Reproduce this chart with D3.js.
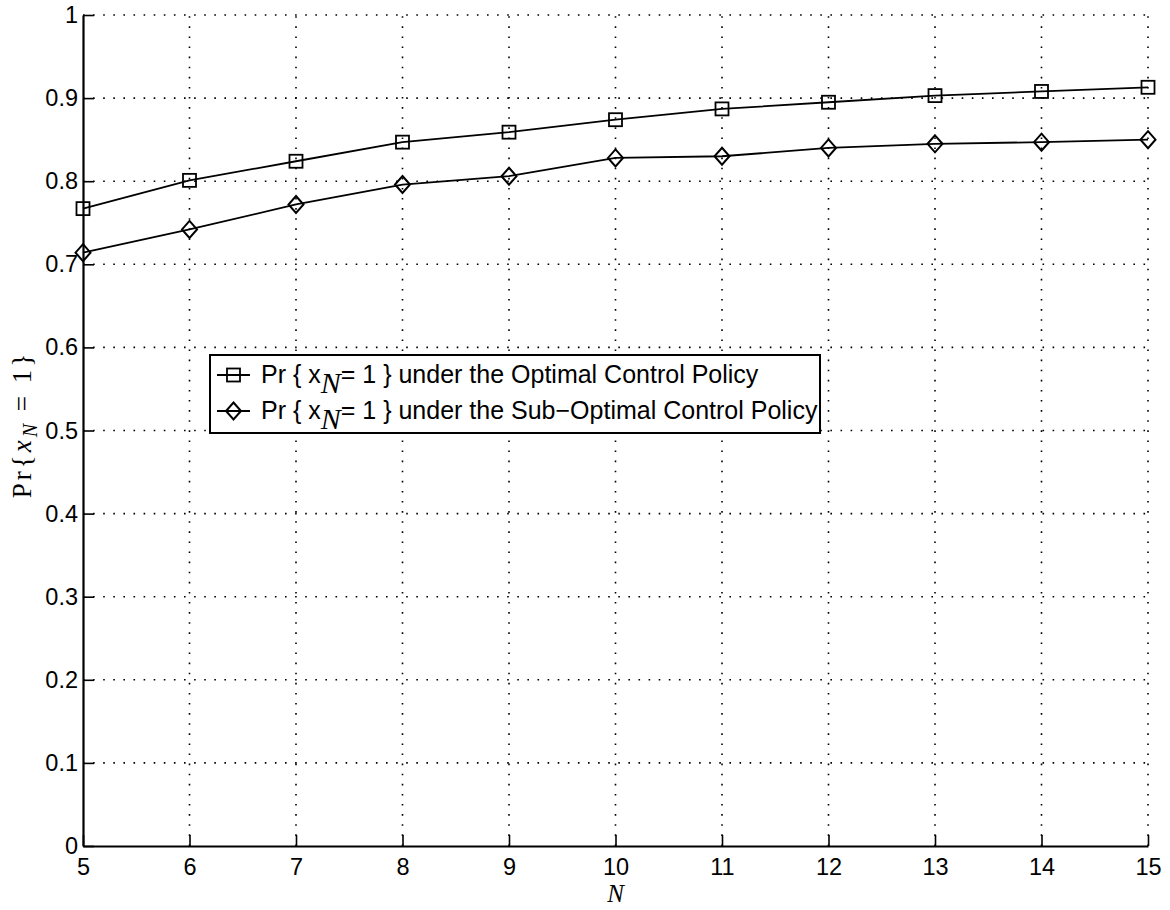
<!DOCTYPE html>
<html>
<head>
<meta charset="utf-8">
<script src="https://cdn.jsdelivr.net/npm/d3@7"></script>
<style>
  body { margin: 0; background: #fff; }
  .tick text { font-family: "Liberation Sans", Arial, sans-serif; font-size: 23.5px; fill: #000; }
  .legend-text { font-family: "Liberation Sans", Arial, sans-serif; font-size: 25px; }
  .math { font-family: "Liberation Serif", "DejaVu Serif", serif; }
</style>
</head>
<body>
<div id="chart"></div>
<script>
// ========== Data ==========
const stages = [5, 6, 7, 8, 9, 10, 11, 12, 13, 14, 15];
const optimalPr = [0.767, 0.801, 0.824, 0.847, 0.859, 0.874, 0.887, 0.895, 0.903, 0.908, 0.913];
const subOptimalPr = [0.714, 0.742, 0.772, 0.796, 0.806, 0.828, 0.830, 0.840, 0.845, 0.847, 0.850];
const yTicks = [0, 0.1, 0.2, 0.3, 0.4, 0.5, 0.6, 0.7, 0.8, 0.9, 1];
const legendLabels = [
  " under the Optimal Control Policy",
  " under the Sub\u2212Optimal Control Policy",
];

// ========== Layout ==========
const width = 1170;
const height = 910;
const margin = { top: 15, right: 22, bottom: 64, left: 83 };

const svg = d3
  .select("#chart")
  .append("svg")
  .attr("width", width)
  .attr("height", height);

svg.append("rect").attr("width", width).attr("height", height).attr("fill", "#fff");

const x = d3
  .scaleLinear()
  .domain([5, 15])
  .range([margin.left, width - margin.right]);

const y = d3
  .scaleLinear()
  .domain([0, 1])
  .range([height - margin.bottom, margin.top]);

// Grid (dotted)
const grid = svg.append("g").attr("stroke", "#000").attr("stroke-width", 1.6).attr("stroke-dasharray", "1.6,8.5");
grid
  .selectAll("line.vx")
  .data(stages.slice(1))
  .enter()
  .append("line")
  .attr("x1", (d) => x(d))
  .attr("x2", (d) => x(d))
  .attr("y1", y(0))
  .attr("y2", y(1));
grid
  .selectAll("line.hy")
  .data(yTicks.slice(1))
  .enter()
  .append("line")
  .attr("x1", x(5))
  .attr("x2", x(15))
  .attr("y1", (d) => y(d))
  .attr("y2", (d) => y(d));

// Axes (ticks inward)
const xAxis = svg
  .append("g")
  .attr("transform", `translate(0,${y(0)})`)
  .call(d3.axisBottom(x).tickValues(stages).tickFormat(d3.format("d")).tickSizeInner(-11).tickSizeOuter(0).tickPadding(12));
xAxis.select(".domain").attr("stroke-width", 2.2);
xAxis.selectAll(".tick line").attr("stroke-width", 1.6);
xAxis.selectAll(".tick text").attr("dy", "0.71em");

const yAxis = svg
  .append("g")
  .attr("transform", `translate(${x(5)},0)`)
  .call(d3.axisLeft(y).tickValues(yTicks).tickFormat((d) => (d === 0 || d === 1 ? d3.format("d")(d) : d3.format(".1f")(d))).tickSizeInner(-11).tickSizeOuter(0).tickPadding(5));
yAxis.select(".domain").attr("stroke-width", 2.2);
yAxis.selectAll(".tick line").attr("stroke-width", 1.6);

// Lines
const line = d3
  .line()
  .x((d) => x(d[0]))
  .y((d) => y(d[1]));

const seriesList = [
  { values: d3.zip(stages, optimalPr), marker: "square" },
  { values: d3.zip(stages, subOptimalPr), marker: "diamond" },
];

function drawMarker(g, type, cx, cy) {
  if (type === "square") {
    g.append("rect")
      .attr("x", cx - 6.5)
      .attr("y", cy - 6.5)
      .attr("width", 13)
      .attr("height", 13)
      .attr("fill", "none")
      .attr("stroke", "#000")
      .attr("stroke-width", 1.8);
  } else {
    g.append("path")
      .attr("d", `M${cx},${cy - 8.5}L${cx + 7.5},${cy}L${cx},${cy + 8.5}L${cx - 7.5},${cy}Z`)
      .attr("fill", "none")
      .attr("stroke", "#000")
      .attr("stroke-width", 2);
  }
}

seriesList.forEach((s) => {
  svg
    .append("path")
    .datum(s.values)
    .attr("fill", "none")
    .attr("stroke", "#000")
    .attr("stroke-width", 1.8)
    .attr("d", line);
  const mg = svg.append("g");
  s.values.forEach((d) => drawMarker(mg, s.marker, x(d[0]), y(d[1])));
});

// Legend
const legend = svg.append("g").attr("transform", "translate(210,355)");
legend
  .append("rect")
  .attr("width", 610)
  .attr("height", 78)
  .attr("fill", "#fff")
  .attr("stroke", "#000")
  .attr("stroke-width", 2);

legendLabels.forEach((label, i) => {
  const ly = 20 + i * 36;
  legend
    .append("line")
    .attr("x1", 7)
    .attr("x2", 40)
    .attr("y1", ly)
    .attr("y2", ly)
    .attr("stroke", "#000")
    .attr("stroke-width", 1.8);
  drawMarker(legend, seriesList[i].marker, 23.5, ly);
  const t = legend
    .append("text")
    .attr("class", "legend-text")
    .attr("x", 51)
    .attr("y", ly + 8);
  t.append("tspan").text("Pr { x");
  t.append("tspan")
    .attr("class", "math")
    .attr("font-style", "italic")
    .attr("font-size", 30)
    .attr("dy", 10)
    .text("N");
  t.append("tspan").attr("dy", -10).text("= 1 }" + label);
});

// Axis labels
svg
  .append("text")
  .attr("class", "math")
  .attr("x", x(10))
  .attr("y", 902)
  .attr("text-anchor", "middle")
  .attr("font-size", 25)
  .attr("font-style", "italic")
  .text("N");

const yl = svg
  .append("text")
  .attr("class", "math")
  .attr("transform", `translate(31,${y(0.5) - 6}) rotate(-90)`)
  .attr("text-anchor", "middle")
  .attr("font-size", 27)
  .attr("letter-spacing", 3);
yl.append("tspan").text("Pr{");
yl.append("tspan").attr("font-style", "italic").text("x");
yl.append("tspan").attr("font-style", "italic").attr("font-size", 20).attr("dy", 6).text("N");
yl.append("tspan").attr("dy", -6).text(" = 1}");
</script>
</body>
</html>
